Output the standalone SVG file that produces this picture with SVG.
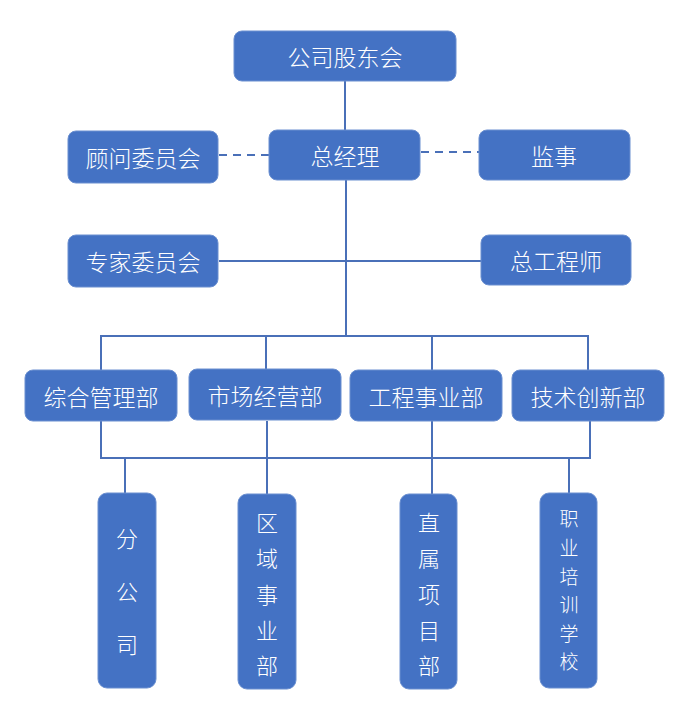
<svg xmlns="http://www.w3.org/2000/svg" width="685" height="725" viewBox="0 0 685 725">
<style>
.box{fill:#4472C4;stroke:#6a8fd0;stroke-width:1}
.t{fill:#ffffff;font-family:"Noto Sans CJK SC","Noto Sans",sans-serif;font-size:23px;font-weight:300;text-anchor:middle;dominant-baseline:central}
.tv{font-size:22px}
.ts{font-size:19px}
.ln{stroke:#4a70b8;stroke-width:2;fill:none}
.dash{stroke-dasharray:8 6}
</style>
<rect width="685" height="725" fill="#ffffff"/>
<g id="connectors">
<line class="ln" x1="345" y1="80" x2="345" y2="130"/>
<line class="ln dash" x1="219" y1="155" x2="270" y2="155"/>
<line class="ln dash" x1="421" y1="152" x2="480" y2="152"/>
<line class="ln" x1="346" y1="180" x2="346" y2="336"/>
<line class="ln" x1="219" y1="261" x2="482" y2="261"/>
<polyline class="ln" points="101,370 101,336 588,336 588,370"/>
<line class="ln" x1="266" y1="336" x2="266" y2="370"/>
<line class="ln" x1="432" y1="336" x2="432" y2="370"/>
<polyline class="ln" points="101,421 101,458 590,458 590,421"/>
<line class="ln" x1="267" y1="421" x2="267" y2="494"/>
<line class="ln" x1="432" y1="421" x2="432" y2="494"/>
<line class="ln" x1="125" y1="458" x2="125" y2="493"/>
<line class="ln" x1="569" y1="458" x2="569" y2="493"/>
</g>
<g id="n-shareholders"><rect class="box" x="234" y="31" width="222" height="50" rx="8"/><text class="t" x="345" y="56">公司股东会</text></g>
<g id="n-advisory"><rect class="box" x="68" y="131" width="150" height="52" rx="8"/><text class="t" x="143" y="157">顾问委员会</text></g>
<g id="n-gm"><rect class="box" x="269" y="130" width="151" height="50" rx="8"/><text class="t" x="345" y="155">总经理</text></g>
<g id="n-supervisor"><rect class="box" x="479" y="130" width="151" height="50" rx="8"/><text class="t" x="554" y="155">监事</text></g>
<g id="n-expert"><rect class="box" x="68" y="235" width="150" height="52" rx="8"/><text class="t" x="143" y="261">专家委员会</text></g>
<g id="n-chief-engineer"><rect class="box" x="481" y="235" width="150" height="50" rx="8"/><text class="t" x="556" y="260">总工程师</text></g>
<g id="n-admin"><rect class="box" x="25" y="370" width="152" height="51" rx="8"/><text class="t" x="101" y="396">综合管理部</text></g>
<g id="n-market"><rect class="box" x="189" y="369" width="152" height="51" rx="8"/><text class="t" x="265" y="395">市场经营部</text></g>
<g id="n-engineering"><rect class="box" x="350" y="370" width="152" height="51" rx="8"/><text class="t" x="426" y="396">工程事业部</text></g>
<g id="n-tech"><rect class="box" x="512" y="370" width="152" height="51" rx="8"/><text class="t" x="588" y="396">技术创新部</text></g>
<g id="n-branch"><rect class="box" x="98" y="493" width="58" height="195" rx="9"/>
<text class="t tv" x="127" y="537">分</text><text class="t tv" x="127" y="590">公</text><text class="t tv" x="127" y="643">司</text></g>
<g id="n-regional"><rect class="box" x="238" y="494" width="58" height="195" rx="9"/>
<text class="t tv" x="267" y="521">区</text><text class="t tv" x="267" y="557">域</text><text class="t tv" x="267" y="593">事</text><text class="t tv" x="267" y="629">业</text><text class="t tv" x="267" y="664">部</text></g>
<g id="n-direct"><rect class="box" x="400" y="494" width="57" height="195" rx="9"/>
<text class="t tv" x="429" y="521">直</text><text class="t tv" x="429" y="557">属</text><text class="t tv" x="429" y="593">项</text><text class="t tv" x="429" y="629">目</text><text class="t tv" x="429" y="664">部</text></g>
<g id="n-school"><rect class="box" x="540" y="493" width="57" height="195" rx="9"/>
<text class="t ts" x="569" y="517">职</text><text class="t ts" x="569" y="546">业</text><text class="t ts" x="569" y="575">培</text><text class="t ts" x="569" y="603">训</text><text class="t ts" x="569" y="632">学</text><text class="t ts" x="569" y="660">校</text></g>
</svg>
